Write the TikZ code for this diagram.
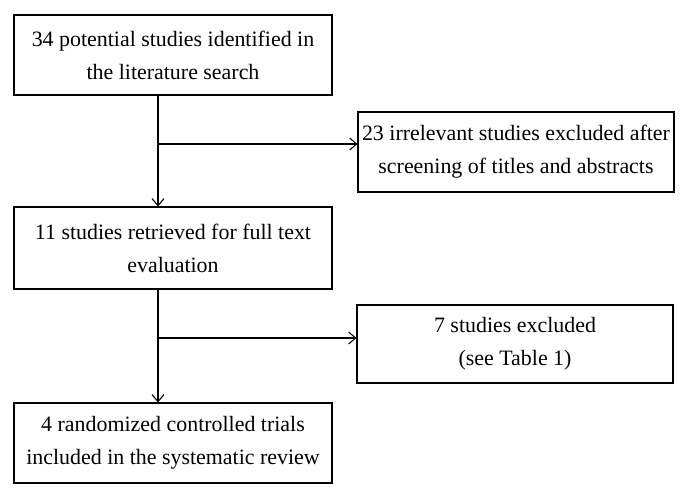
\documentclass[tikz,border=0pt]{standalone}
\usepackage{fontspec}
\setmainfont{Liberation Serif}
\usetikzlibrary{arrows.meta}

\begin{document}
\begin{tikzpicture}[x=1bp,y=-1bp,
    box/.style={draw, line width=1.1bp, minimum width=318bp, minimum height=80bp,
                align=center, font=\fontsize{22}{33}\selectfont},
    flow/.style={line width=1.1bp, -{Straight Barb[length=7bp,width=12bp,line width=1.1bp]}}]
    \useasboundingbox (0,0) rectangle (688,497);

    \node[box] (search) at (173,55) {34 potential studies identified in\\the literature search};
    \node[box, minimum width=316bp] (screened) at (516,152) {23 irrelevant studies excluded after\\screening of titles and abstracts};
    \node[box, minimum height=82bp] (retrieved) at (173,248) {11 studies retrieved for full text\\evaluation};
    \node[box, minimum width=316bp, minimum height=78bp] (excluded) at (515,344) {7 studies excluded\\(see Table 1)};
    \node[box] (included) at (173,443) {4 randomized controlled trials\\included in the systematic review};

    \coordinate (split1) at (158,144);
    \coordinate (split2) at (158,338);

    \draw[flow] (search.south -| split1) -- (retrieved.north -| split1);
    \draw[flow] (split1) -- (split1 -| screened.west);
    \draw[flow] (retrieved.south -| split2) -- (included.north -| split2);
    \draw[flow] (split2) -- (split2 -| excluded.west);
\end{tikzpicture}
\end{document}
